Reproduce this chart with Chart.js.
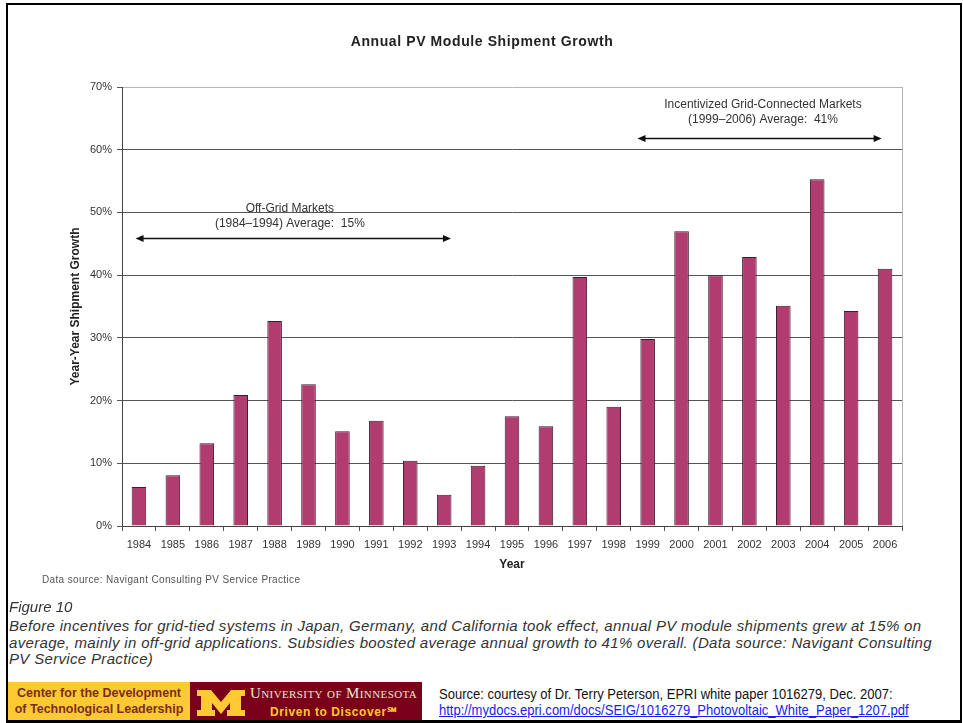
<!DOCTYPE html>
<html>
<head>
<meta charset="utf-8">
<script src="https://cdn.jsdelivr.net/npm/chart.js@4.4.1/dist/chart.umd.min.js"></script>
<style>
  html, body { margin: 0; padding: 0; background: #fff; }
  body { width: 963px; height: 723px; position: relative; overflow: hidden; font-family: "Liberation Sans", Arial, sans-serif; }
  #frame { position: absolute; left: 6px; top: 3px; width: 952px; height: 715px; border: 2px solid #000; border-bottom-width: 3px; }
  #chartBox { position: absolute; left: 0; top: 0; width: 963px; height: 590px; }
  .abs { position: absolute; white-space: nowrap; }
  #note { left: 42px; top: 574px; font-size: 10px; letter-spacing: 0.35px; color: #555; }
  #figLabel { left: 9px; top: 598px; font-size: 15px; font-style: italic; color: #333; line-height: 18px; }
  #caption { left: 9px; top: 618px; font-size: 15px; letter-spacing: 0.33px; font-style: italic; color: #333; line-height: 16.5px; }
  #cdtl { left: 8px; top: 682px; width: 182px; height: 38px; background: #FFC933; color: #7a2d1c;
          font-weight: bold; font-size: 12.5px; line-height: 16px; text-align: center; padding-top: 3px; box-sizing: border-box; }
  #umn { left: 190px; top: 682px; width: 232px; height: 38px; background: #7A0019; }
  #umnName { left: 60px; top: 3px; font-family: "Liberation Serif", serif; font-variant: small-caps; font-size: 15px; color: #f2e4d2; letter-spacing: 0.4px; }
  #umnTag { left: 80px; top: 21px; font-weight: bold; font-size: 12px; color: #FFC933; letter-spacing: 0.6px; }
  #umnLogo { left: 7px; top: 8px; }
  #source { left: 439px; top: 686px; font-size: 14px; color: #111; line-height: 16px; transform: scaleX(0.93); transform-origin: 0 0; }
  #source a { color: #1a1aff; text-decoration: underline; }
</style>
</head>
<body>
<div id="frame"></div>
<div id="chartBox"><canvas id="c" width="963" height="590"></canvas></div>

<div class="abs" id="note">Data source: Navigant Consulting PV Service Practice</div>
<div class="abs" id="figLabel">Figure 10</div>
<div class="abs" id="caption">Before incentives for grid-tied systems in Japan, Germany, and California took effect, annual PV module shipments grew at 15% on<br>average, mainly in off-grid applications. Subsidies boosted average annual growth to 41% overall. (Data source: Navigant Consulting<br>PV Service Practice)</div>

<div class="abs" id="cdtl">Center for the Development<br>of Technological Leadership</div>
<div class="abs" id="umn">
  <svg class="abs" id="umnLogo" width="48" height="26" viewBox="0 0 48 26">
    <polygon fill="#FFC933" points="0,0 14,0 24,12 34,0 48,0 48,6 44,6 44,20 48,20 48,26 30,26 30,20 33,20 33,13 24,24 15,13 15,20 18,20 18,26 0,26 0,20 4,20 4,6 0,6"/>
  </svg>
  <div class="abs" id="umnName">University of Minnesota</div>
  <div class="abs" id="umnTag">Driven to Discover℠</div>
</div>
<div class="abs" id="source">Source: courtesy of Dr. Terry Peterson, EPRI white paper 1016279, Dec. 2007:<br><a href="#">http://mydocs.epri.com/docs/SEIG/1016279_Photovoltaic_White_Paper_1207.pdf</a></div>

<script>
// Year-over-year growth of PV module shipments, in percent
const years = ['1984','1985','1986','1987','1988','1989','1990','1991','1992','1993','1994',
               '1995','1996','1997','1998','1999','2000','2001','2002','2003','2004','2005','2006'];
const growth = [6.2, 8.1, 13.2, 20.9, 32.7, 22.6, 15.1, 16.8, 10.4, 5.0, 9.6,
                17.5, 15.9, 39.7, 19.0, 29.8, 47.0, 40.0, 42.9, 35.1, 55.3, 34.3, 41.0];
const yTicks = [0, 10, 20, 30, 40, 50, 60, 70];

const chartTitle = 'Annual PV Module Shipment Growth';

// Period averages shown above the bars
const periodLabels = [
  ['Off-Grid Markets', '(1984\u20131994) Average:  15%'],
  ['Incentivized Grid-Connected Markets', '(1999\u20132006) Average:  41%']
];

// Where each period bracket sits, in category-index / percent units
const brackets = [
  { from: -0.1, to: 9.2, arrowY: 45.9, textX: 4.45, textY: 50.6 },
  { from: 14.7, to: 21.9, arrowY: 61.8, textX: 18.4, textY: 67.2 }
];

const FONT = '"Liberation Sans", Arial, sans-serif';

// Title, right plot border and the two period brackets
const periodBrackets = {
  id: 'periodBrackets',
  afterDatasetsDraw(chart) {
    const { ctx, chartArea, scales: { x, y } } = chart;
    ctx.save();
    ctx.fillStyle = '#222';
    ctx.font = 'bold 14px ' + FONT;
    ctx.letterSpacing = '0.6px';
    ctx.textAlign = 'center';
    ctx.textBaseline = 'middle';
    ctx.fillText(chartTitle, 482, 42);
    ctx.letterSpacing = '0px';

    ctx.strokeStyle = '#b4b4b4';
    ctx.lineWidth = 1;
    ctx.beginPath();
    ctx.moveTo(Math.round(chartArea.right) + 0.5, chartArea.top);
    ctx.lineTo(Math.round(chartArea.right) + 0.5, chartArea.bottom);
    ctx.stroke();

    brackets.forEach((b, i) => {
      const x1 = x.getPixelForValue(b.from);
      const x2 = x.getPixelForValue(b.to);
      const ay = Math.round(y.getPixelForValue(b.arrowY)) + 0.5;
      ctx.strokeStyle = '#111';
      ctx.fillStyle = '#111';
      ctx.lineWidth = 1.5;
      ctx.beginPath();
      ctx.moveTo(x1 + 6, ay);
      ctx.lineTo(x2 - 6, ay);
      ctx.stroke();
      [[x1, 1], [x2, -1]].forEach(([px, dir]) => {
        ctx.beginPath();
        ctx.moveTo(px, ay);
        ctx.lineTo(px + dir * 8, ay - 3.5);
        ctx.lineTo(px + dir * 8, ay + 3.5);
        ctx.closePath();
        ctx.fill();
      });
      const tx = x.getPixelForValue(b.textX);
      const ty = y.getPixelForValue(b.textY);
      ctx.fillStyle = '#333';
      ctx.font = '12px ' + FONT;
      ctx.textAlign = 'center';
      ctx.textBaseline = 'middle';
      periodLabels[i].forEach((line, k) => ctx.fillText(line, tx, ty + k * 15));
    });
    ctx.restore();
  }
};

new Chart(document.getElementById('c'), {
  type: 'bar',
  data: {
    labels: years,
    datasets: [{
      data: growth,
      backgroundColor: '#b03c70',
      borderColor: '#3e1a2c',
      borderWidth: 1,
      barPercentage: 0.43,
      categoryPercentage: 1.0
    }]
  },
  options: {
    responsive: false,
    animation: false,
    devicePixelRatio: 1,
    layout: { padding: { left: 0, right: 61, top: 87, bottom: 0 } },
    plugins: {
      legend: { display: false },
      tooltip: { enabled: false },
      title: { display: false }
    },
    scales: {
      x: {
        grid: { display: true, drawOnChartArea: false, drawTicks: true, tickLength: 5, color: '#555', offset: true },
        border: { display: true, color: '#444', width: 1 },
        ticks: { color: '#333', font: { family: FONT, size: 11 }, padding: 7, maxRotation: 0, autoSkip: false },
        title: { display: true, text: 'Year', color: '#222', font: { family: FONT, size: 12, weight: 'bold' }, padding: { bottom: 17.8 } },
        afterFit(s) { s.height = 64; }
      },
      y: {
        min: 0,
        max: 70,
        afterBuildTicks(s) { s.ticks = yTicks.map(v => ({ value: v })); },
        grid: {
          color: c => (c.tick && c.tick.value === 70 ? '#b4b4b4' : '#555'),
          tickColor: '#555',
          tickLength: 5,
          lineWidth: 1
        },
        border: { display: true, color: '#444', width: 1 },
        ticks: { color: '#333', font: { family: FONT, size: 11 }, padding: 5, callback: v => v + '%' },
        title: { display: true, text: 'Year-Year Shipment Growth', color: '#222', font: { family: FONT, size: 12, weight: 'bold' }, padding: { top: 68 } },
        afterFit(s) { s.width = 122; }
      }
    }
  },
  plugins: [periodBrackets]
});
</script>
</body>
</html>
